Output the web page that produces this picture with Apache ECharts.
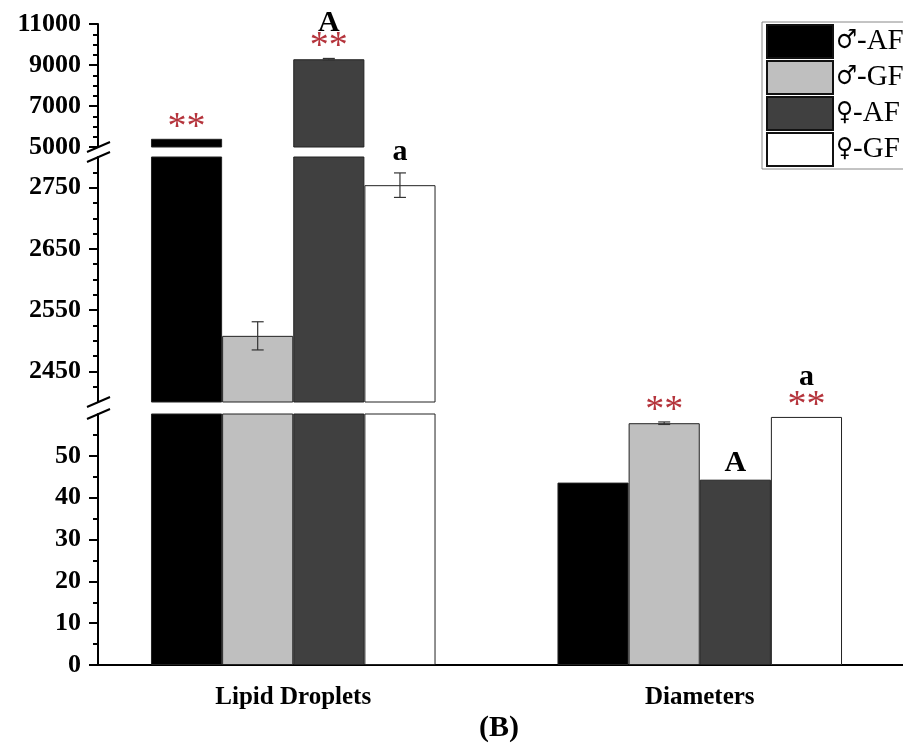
<!DOCTYPE html>
<html>
<head>
<meta charset="utf-8">
<script src="https://cdn.jsdelivr.net/npm/echarts@6/dist/echarts.min.js"></script>
<style>
  html, body { margin: 0; padding: 0; background: #fff; }
  #main { width: 903px; height: 752px; }
</style>
</head>
<body>
<div id="main"></div>
<script>
// data
var categories = ['Lipid Droplets', 'Diameters'];
var groupNames = ['\u2642-AF', '\u2642-GF', '\u2640-AF', '\u2640-GF'];
var maleAF = [5400, 43.6];
var maleGF = [2508, 57.8];
var femaleAF = [9280, 44.3];
var femaleGF = [2754, 59.3];
var maleAFErr = [0, 0];
var maleGFErr = [23, 0.3];
var femaleAFErr = [40, 0];
var femaleGFErr = [20, 0];
var starMarks = [['**', ''], ['', '**'], ['**', ''], ['', '**']];
var letterMarks = [['', ''], ['', ''], ['A', 'A'], ['a', 'a']];
var lowTicks = [0, 10, 20, 30, 40, 50];
var midTicks = [2450, 2550, 2650, 2750];
var topTicks = [5000, 7000, 9000, 11000];

var values = [maleAF, maleGF, femaleAF, femaleGF];
var errors = [maleAFErr, maleGFErr, femaleAFErr, femaleGFErr];
var colors = ['#000000', '#bfbfbf', '#404040', '#ffffff'];
var FONT = "'Liberation Serif', 'DejaVu Serif', serif";
var GRID_LEFT = 90, GRID_WIDTH = 817, AXIS_SHIFT = 8;

// broken axis: bottom, middle and top panels
var panels = [
  { min: 0, max: 60, top: 414, height: 251, ticks: lowTicks, step: 5, last: 55 },
  { min: 2400, max: 2800, top: 157, height: 245, ticks: midTicks, step: 25, last: 2775, first: 2425 },
  { min: 5000, max: 11000, top: 24, height: 123, ticks: topTicks, step: 500, last: 10500 }
];

function minorOf(p) {
  var out = [];
  for (var v = (p.first || p.min + p.step); v <= p.last + 1e-9; v += p.step) {
    if (p.ticks.indexOf(v) < 0) out.push(v);
  }
  return out;
}

var grid = [], xAxis = [], yAxis = [], series = [];

panels.forEach(function (p, gi) {
  grid.push({ left: GRID_LEFT, width: GRID_WIDTH, top: p.top, height: p.height });
  xAxis.push({
    type: 'category', gridIndex: gi, data: categories,
    show: gi === 0,
    axisLine: { lineStyle: { color: '#000', width: 2 } },
    axisTick: { alignWithLabel: true, length: 10, lineStyle: { color: '#000', width: 2 } },
    axisLabel: { color: '#000', fontSize: 25, fontWeight: 'bold', fontFamily: FONT, margin: 20 }
  });
  yAxis.push({
    type: 'value', gridIndex: gi, min: p.min, max: p.max, position: 'left', offset: -AXIS_SHIFT,
    splitLine: { show: false },
    axisLine: { show: true, lineStyle: { color: '#000', width: 2 } },
    axisTick: { show: true, length: 9, customValues: p.ticks, lineStyle: { color: '#000', width: 2 } },
    axisLabel: {
      customValues: p.ticks, margin: 17, color: '#000', fontSize: 26, fontWeight: 'bold', fontFamily: FONT,
      formatter: function (v) { return String(v); }
    }
  });
  yAxis.push({
    type: 'value', gridIndex: gi, min: p.min, max: p.max, position: 'left', offset: -AXIS_SHIFT,
    splitLine: { show: false },
    axisLine: { show: false },
    axisTick: { show: true, length: 5, customValues: minorOf(p), lineStyle: { color: '#000', width: 2 } },
    axisLabel: { show: false }
  });

  groupNames.forEach(function (name, si) {
    series.push({
      type: 'bar', name: name, xAxisIndex: gi, yAxisIndex: gi * 2,
      data: values[si], barGap: '0%', barCategoryGap: '30%', clip: true,
      itemStyle: { color: colors[si], borderColor: '#222', borderWidth: 1 }
    });
  });

  // error bars and significance marks, only where the bar top falls in this panel
  var markData = [];
  categories.forEach(function (c, ci) {
    values.forEach(function (arr, si) {
      markData.push([ci, si, arr[ci], errors[si][ci]]);
    });
  });
  series.push({
    type: 'custom', xAxisIndex: gi, yAxisIndex: gi * 2, z: 5, clip: false,
    encode: { x: 0, y: 2 },
    data: markData,
    renderItem: function (params, api) {
      var ci = api.value(0), si = api.value(1), v = api.value(2), e = api.value(3);
      if (v < p.min || v > p.max) return;
      var bw = api.size([1, 0])[0] * 0.7 / 4;
      var x = api.coord([ci, v])[0] + (si - 1.5) * bw;
      var top = api.coord([ci, v + e])[1];
      var kids = [];
      if (e) {
        var y2 = api.coord([ci, v - e])[1];
        var st = { stroke: '#333', lineWidth: 1.2 };
        kids.push({ type: 'line', shape: { x1: x, y1: top, x2: x, y2: y2 }, style: st });
        kids.push({ type: 'line', shape: { x1: x - 6, y1: top, x2: x + 6, y2: top }, style: st });
        kids.push({ type: 'line', shape: { x1: x - 6, y1: y2, x2: x + 6, y2: y2 }, style: st });
      }
      var s = starMarks[si][ci], l = letterMarks[si][ci];
      if (s) {
        kids.push({ type: 'text', x: x, y: top - 11, style: {
          text: s, fill: '#b5343c', font: '38px ' + FONT, align: 'center', verticalAlign: 'middle'
        } });
      }
      if (l) {
        var caps = l === l.toUpperCase();
        kids.push({ type: 'text', x: x, y: top - (s ? 40 : 21) + (caps ? 5 : 0), style: {
          text: l, fill: '#000', font: 'bold 30px ' + FONT, align: 'center', verticalAlign: 'middle'
        } });
      }
      return { type: 'group', children: kids };
    }
  });
});

// minor tick between the two categories
xAxis.push({
  type: 'category', gridIndex: 0, data: categories, position: 'bottom',
  axisLine: { show: false }, axisLabel: { show: false },
  axisTick: { length: 5, interval: function (i) { return i === 1; }, lineStyle: { color: '#000', width: 2 } }
});

// break marks on the y axis
var ax = GRID_LEFT + AXIS_SHIFT;
var breakYs = [panels[2].top + panels[2].height, panels[1].top, panels[1].top + panels[1].height, panels[0].top];
var graphics = breakYs.map(function (y) {
  return { type: 'line', shape: { x1: ax - 11, y1: y + 5, x2: ax + 12, y2: y - 5 }, style: { stroke: '#000', lineWidth: 2 }, z: 10 };
});
graphics.push({
  type: 'text', left: 479, top: 713,
  style: { text: '(B)', font: 'bold 30px ' + FONT, fill: '#000' }
});

var myChart = echarts.init(document.getElementById('main'));
myChart.setOption({
  animation: false,
  backgroundColor: '#fff',
  grid: grid,
  xAxis: xAxis,
  yAxis: yAxis,
  legend: {
    data: groupNames, orient: 'vertical', left: 762, top: 22,
    padding: [2, 0, 2, 4], itemGap: 1, itemWidth: 66, itemHeight: 33, icon: 'rect',
    borderColor: '#888', borderWidth: 1,
    itemStyle: { borderColor: '#111', borderWidth: 2 },
    formatter: function (name) {
      return '{g|' + name.charAt(0) + '}{t|' + name.slice(1) + '}';
    },
    textStyle: {
      color: '#000', lineHeight: 30, padding: [0, 0, 0, -2],
      rich: {
        g: { fontSize: 26, fontFamily: "'DejaVu Serif Condensed', 'DejaVu Sans Condensed', 'DejaVu Serif', serif", color: '#000', lineHeight: 30 },
        t: { fontSize: 29, fontFamily: FONT, color: '#000', lineHeight: 30 }
      }
    }
  },
  series: series,
  graphic: graphics
});
</script>
</body>
</html>
